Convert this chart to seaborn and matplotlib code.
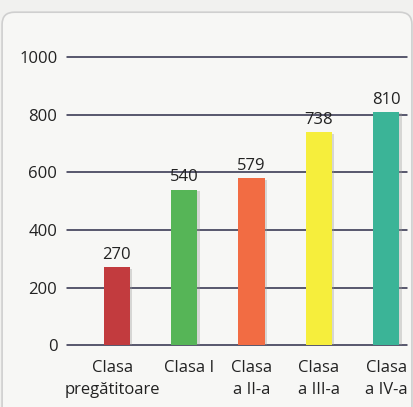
import matplotlib
matplotlib.use("Agg")
import matplotlib.pyplot as plt
import matplotlib.patheffects as pe
import matplotlib.transforms as mtransforms
from matplotlib.patches import FancyBboxPatch
import seaborn as sns
import pandas as pd

categories = ["Clasa\npregătitoare", "Clasa I", "Clasa\na II-a", "Clasa\na III-a", "Clasa\na IV-a"]
values = [270, 540, 579, 738, 810]
colors = ["#c23b3e", "#56b557", "#f26c43", "#f6ee3c", "#3bb497"]
yticks = [0, 200, 400, 600, 800, 1000]

sns.set_theme(style="white")
plt.rcParams["font.family"] = ["Open Sans", "DejaVu Sans"]

df = pd.DataFrame({"clasa": categories, "elevi": values})

fig = plt.figure(figsize=(4.14, 4.07), dpi=100)
fig.patch.set_facecolor("#f1f1ef")
fig.patches.append(FancyBboxPatch((0.005, -0.05), 0.99, 1.02, boxstyle="round,pad=0,rounding_size=0.03",
                                  transform=fig.transFigure, facecolor="#f7f7f5", edgecolor="#cfcfcf",
                                  linewidth=1.2, zorder=-5))
ax = fig.add_axes([0.162, 0.152, 0.821, 0.708])
ax.set_zorder(2)
ax.set_facecolor("none")

sns.barplot(data=df, x="clasa", y="elevi", hue="clasa", palette=colors, legend=False,
            width=0.39, ax=ax, zorder=3, saturation=1)

for p in ax.patches:
    p.set_linewidth(0)
    p.set_path_effects([pe.SimplePatchShadow(offset=(1.8, -1.2), shadow_rgbFace="#999999", alpha=0.35), pe.Normal()])

for i, v in enumerate(values):
    ax.text(i, v + 14, str(v), ha="center", va="bottom", fontsize=12, color="#222222")

for t in yticks:
    ax.axhline(t, color="#2c2c48", linewidth=1.1, zorder=2, clip_on=False)

ax.set_ylim(0, 1000)
ax.set_xlim(-0.74, 4.31)
ax.set_yticks(yticks)
ax.set_yticklabels([str(t) for t in yticks], fontsize=12, color="#222222")
ax.tick_params(axis="y", length=0, pad=7)
ax.tick_params(axis="x", length=0, pad=11, labelsize=12, labelcolor="#222222")
shifts = [-4, 5, 0, 0, 0]
for lbl, dx in zip(ax.get_xticklabels(), shifts):
    lbl.set_linespacing(1.45)
    lbl.set_transform(lbl.get_transform() + mtransforms.ScaledTranslation(dx / 100, 0, fig.dpi_scale_trans))
ax.set_xlabel("")
ax.set_ylabel("")
for s in ax.spines.values():
    s.set_visible(False)

fig.savefig("out.png", dpi=100, facecolor=fig.get_facecolor())
